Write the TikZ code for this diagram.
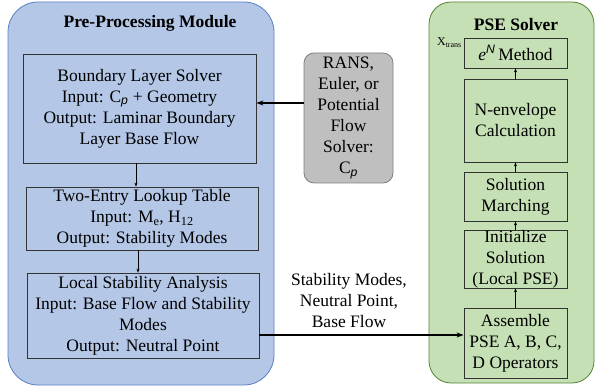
\documentclass[tikz,border=0pt]{standalone}
\usepackage{fontspec}
\setmainfont{Liberation Serif}
\newfontfamily\sansf{Liberation Sans}
\usetikzlibrary{arrows.meta}
\definecolor{bluefill}{RGB}{180,199,231}
\definecolor{blueline}{RGB}{91,127,196}
\definecolor{greenfill}{RGB}{197,224,180}
\definecolor{greenline}{RGB}{84,130,53}
\definecolor{grayfill}{RGB}{191,191,191}
\definecolor{grayline}{RGB}{127,127,127}
\tikzset{
  txt/.style={font=\fontsize{17.5}{21}\selectfont, align=center, inner sep=0pt},
  box/.style={txt, draw=black!80, line width=0.8pt},
  thin arrow/.style={-{Stealth[length=4pt,width=3pt]}, line width=0.5pt},
  thick arrow/.style={-{Stealth[length=7pt,width=5pt]}, line width=1.5pt},
}
\begin{document}
\begin{tikzpicture}[x=1pt,y=-1pt]
\useasboundingbox (0,0) rectangle (597,387);
% containers
\draw[fill=bluefill, draw=blueline, line width=0.8pt, rounded corners=30pt] (8,2) rectangle (274,385);
\draw[fill=greenfill, draw=greenline, line width=0.8pt, rounded corners=22pt] (429,2) rectangle (594,383);
\node[txt, font=\fontsize{17.5}{21}\selectfont\bfseries] (pretitle) at (150,23) {Pre-Processing Module};
\node[txt, font=\fontsize{17.5}{21}\selectfont\bfseries] (psetitle) at (516,25) {PSE Solver};
% left boxes
\node[box, minimum width=233pt, minimum height=109pt] (bl) at (139.5,108.5)
  {Boundary Layer Solver\\Input: C\textsubscript{\sansf\itshape p} + Geometry\\Output: Laminar Boundary\\Layer Base Flow};
\node[box, minimum width=232pt, minimum height=63pt] (lut) at (142,218.5)
  {Two-Entry Lookup Table\\Input: M\textsubscript{e}, H\textsubscript{12}\\Output: Stability Modes};
\node[box, minimum width=232pt, minimum height=85pt] (lsa) at (143,315.5)
  {Local Stability Analysis\\Input: Base Flow and Stability\\Modes\\Output: Neutral Point};
% gray box
\node[box, draw=grayline, fill=grayfill, rounded corners=10pt, minimum width=89pt, minimum height=130pt] (rans) at (348.5,118)
  {RANS,\\Euler, or\\Potential\\Flow\\Solver:\\C\textsubscript{\sansf\itshape p}};
% right boxes
\node[box, minimum width=103pt, minimum height=30pt] (en) at (515.5,53) {\textit{e}\textsuperscript{\sansf\itshape N}\,Method};
\node[box, minimum width=103pt, minimum height=83pt] (nenv) at (515.5,120.5) {N-envelope\\Calculation};
\node[box, minimum width=103pt, minimum height=49pt] (march) at (515.5,196.5) {Solution\\Marching};
\node[box, minimum width=103pt, minimum height=54pt] (init) at (515.5,259) {Initialize\\Solution\\(Local PSE)};
\node[box, minimum width=103pt, minimum height=70pt] (asm) at (515.5,343) {Assemble\\PSE A, B, C,\\D Operators};
\node[inner sep=0pt, anchor=east, font=\fontsize{12}{14}\selectfont] (xtrans) at (462,43) {X\textsubscript{trans}};
% label
\node[txt] (lbl) at (349,301) {Stability Modes,\\Neutral Point,\\Base Flow};
% arrows
\draw[thin arrow] (bl.south -| 136,0) -- (lut.north -| 136,0);
\draw[thin arrow] (lut.south -| 138,0) -- (lsa.north -| 138,0);
\draw[thick arrow] (rans.west |- 0,103) -- (bl.east |- 0,103);
\draw[thick arrow] (lsa.east |- 0,335) -- (asm.west |- 0,335);
\draw[thin arrow] (asm.north) -- (init.south);
\draw[thin arrow] (init.north) -- (march.south);
\draw[thin arrow] (march.north) -- (nenv.south);
\draw[thin arrow] (nenv.north) -- (en.south);
\end{tikzpicture}
\end{document}
